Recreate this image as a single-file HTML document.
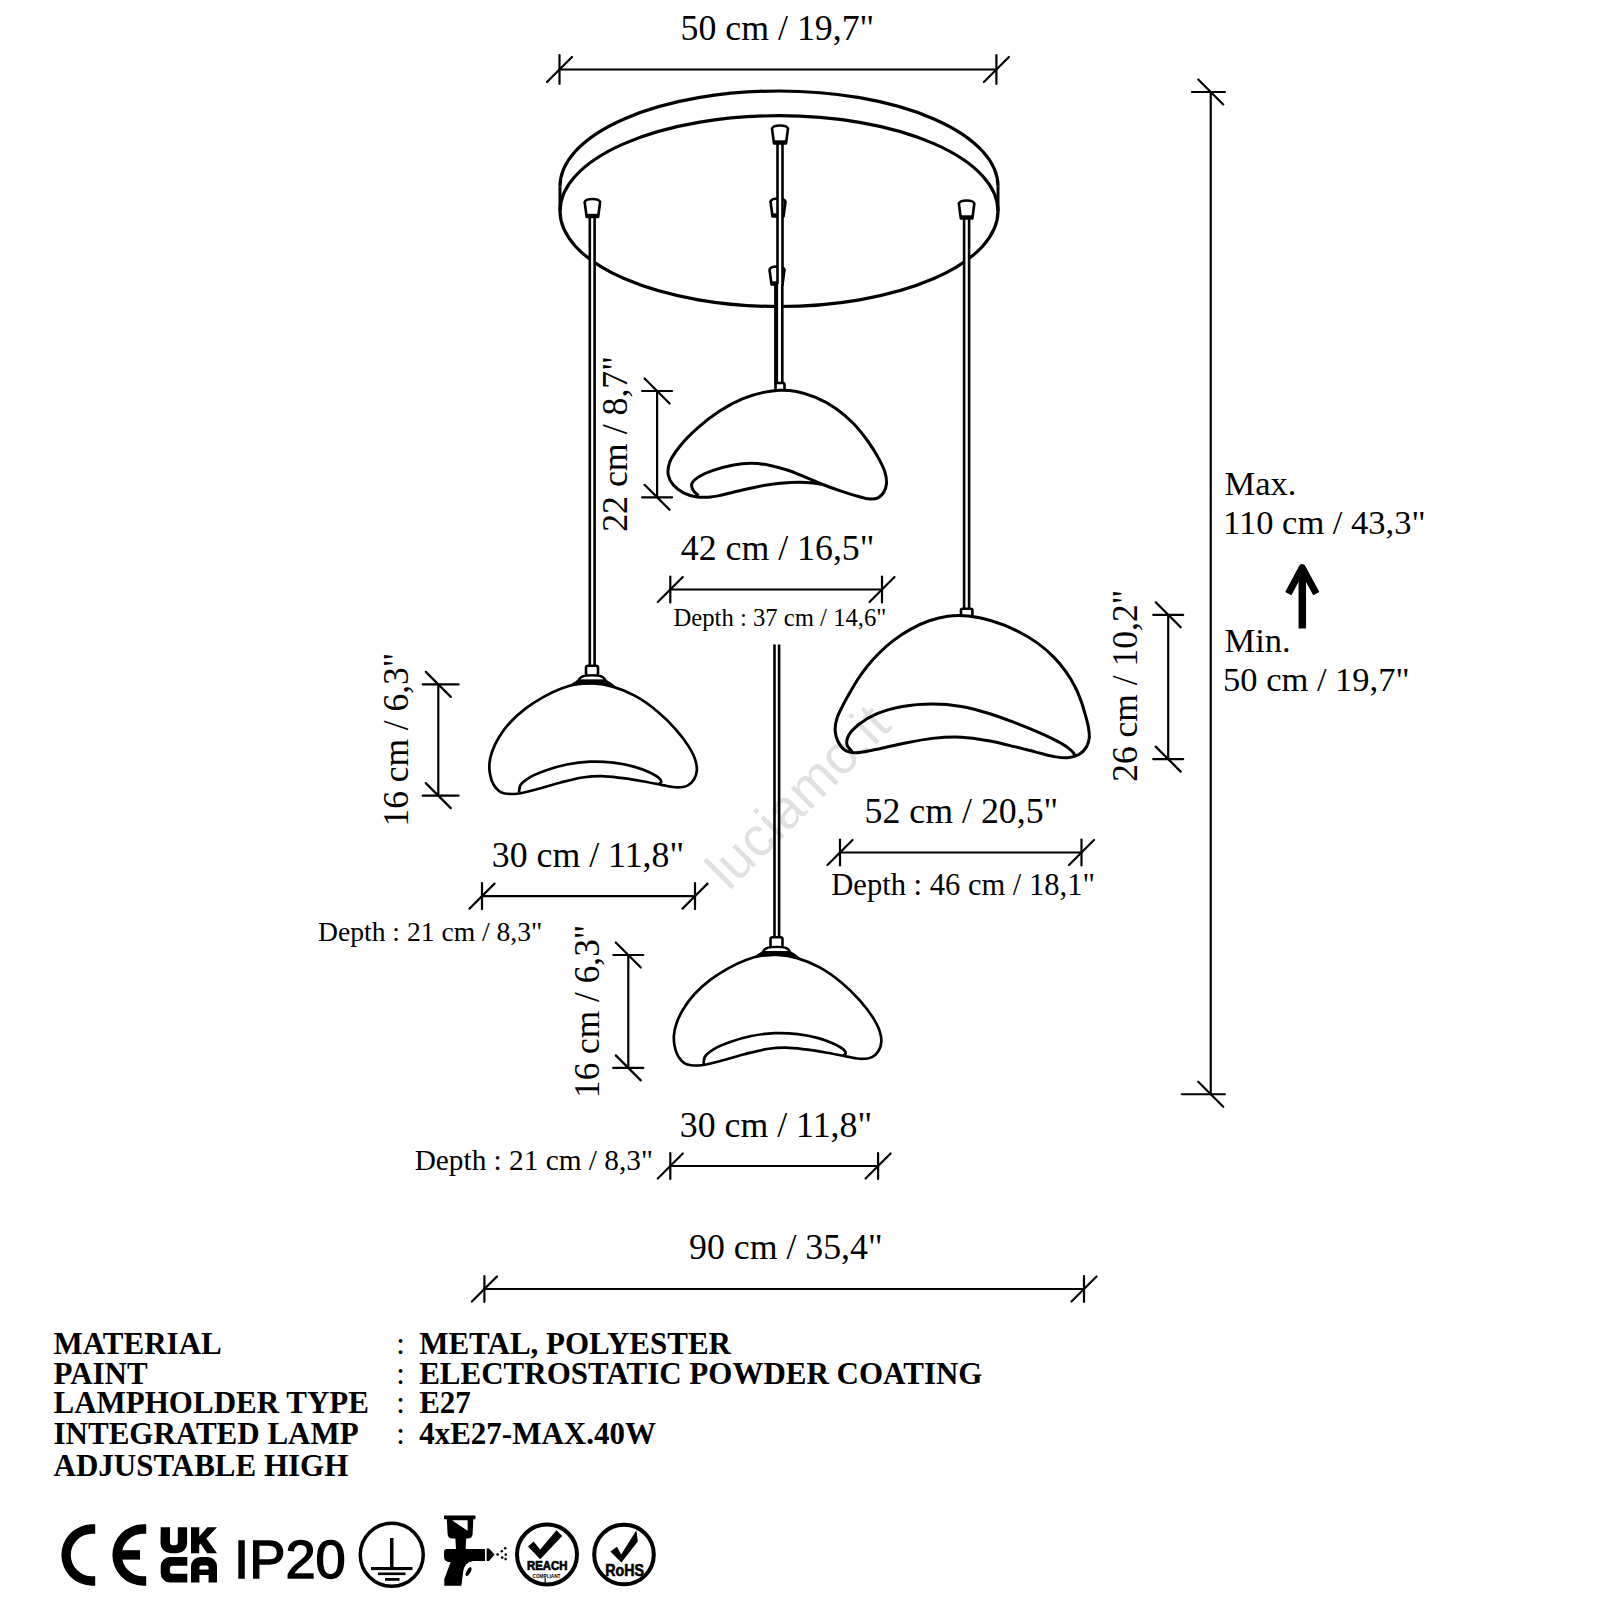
<!DOCTYPE html>
<html><head><meta charset="utf-8"><style>
html,body{margin:0;padding:0;background:#fff;width:1600px;height:1600px;overflow:hidden}
svg{display:block}
.s{font-family:"Liberation Serif",serif;fill:#000;stroke:none}
.b{font-family:"Liberation Serif",serif;font-weight:bold;fill:#000;stroke:none}
.ss{font-family:"Liberation Sans",sans-serif;fill:#000;stroke:none}
</style></head><body>
<svg width="1600" height="1600" viewBox="0 0 1600 1600">
<rect width="1600" height="1600" fill="#fff"/>
<g stroke="#000" fill="none" stroke-linejoin="round">
<ellipse cx="779" cy="211.1" rx="219" ry="95.4" fill="none" stroke-width="3.2"/>
<path d="M560,186.4 A219,95.4 0 0 1 998,186.4" stroke-width="3.2" fill="none"/>
<line x1="560" y1="186.4" x2="560" y2="211.1" stroke-width="3" stroke-linecap="butt"/>
<line x1="998" y1="186.4" x2="998" y2="211.1" stroke-width="3" stroke-linecap="butt"/>
<path d="M770.5,201.5 Q771.5,198.5 778,198.5 Q784.5,198.5 785.5,201.5 L783.5,216.5 L772.5,216.5 Z" stroke-width="2.6" fill="#fff"/>
<rect x="772" y="213.3" width="12" height="3.2" fill="#000" stroke="none"/>
<path d="M769.5,269.5 Q770.5,266.5 777,266.5 Q783.5,266.5 784.5,269.5 L782.5,284.5 L771.5,284.5 Z" stroke-width="2.6" fill="#fff"/>
<rect x="771" y="281.3" width="12" height="3.2" fill="#000" stroke="none"/>
<rect x="777.5" y="140" width="5" height="146" fill="#fff" stroke="none"/>
<line x1="777.5" y1="140" x2="777.5" y2="286" stroke-width="2.6" stroke-linecap="butt"/>
<line x1="782.5" y1="140" x2="782.5" y2="286" stroke-width="2.6" stroke-linecap="butt"/>
<rect x="776.3" y="284" width="6" height="100" fill="#fff" stroke="none"/>
<line x1="776.3" y1="284" x2="776.3" y2="384" stroke-width="2.6" stroke-linecap="butt"/>
<line x1="782.3" y1="284" x2="782.3" y2="384" stroke-width="2.6" stroke-linecap="butt"/>
<line x1="776.1" y1="284" x2="776.1" y2="384" stroke-width="4" stroke-linecap="butt"/>
<path d="M772,128.5 Q773,125.5 780,125.5 Q787,125.5 788,128.5 L786,143.5 L774,143.5 Z" stroke-width="2.6" fill="#fff"/>
<rect x="773.5" y="140.3" width="13" height="3.2" fill="#000" stroke="none"/>
<rect x="589.8" y="214" width="4.8" height="452" fill="#fff" stroke="none"/>
<line x1="589.8" y1="214" x2="589.8" y2="666" stroke-width="2.6" stroke-linecap="butt"/>
<line x1="594.6" y1="214" x2="594.6" y2="666" stroke-width="2.6" stroke-linecap="butt"/>
<path d="M584.65,202 Q585.65,199 592.4,199 Q599.15,199 600.15,202 L598.15,217 L586.65,217 Z" stroke-width="2.6" fill="#fff"/>
<rect x="586.15" y="213.8" width="12.5" height="3.2" fill="#000" stroke="none"/>
<rect x="964.1" y="215" width="5" height="394.5" fill="#fff" stroke="none"/>
<line x1="964.1" y1="215" x2="964.1" y2="609.5" stroke-width="2.6" stroke-linecap="butt"/>
<line x1="969.1" y1="215" x2="969.1" y2="609.5" stroke-width="2.6" stroke-linecap="butt"/>
<path d="M958.85,203.5 Q959.85,200.5 966.6,200.5 Q973.35,200.5 974.35,203.5 L972.35,218.5 L960.85,218.5 Z" stroke-width="2.6" fill="#fff"/>
<rect x="960.35" y="215.3" width="12.5" height="3.2" fill="#000" stroke="none"/>
<rect x="774.5" y="644.5" width="4.6" height="291.5" fill="#fff" stroke="none"/>
<line x1="774.5" y1="644.5" x2="774.5" y2="936" stroke-width="2.6" stroke-linecap="butt"/>
<line x1="779.1" y1="644.5" x2="779.1" y2="936" stroke-width="2.6" stroke-linecap="butt"/>
<rect x="775.5" y="383" width="9" height="8.5" rx="1.5" fill="#fff" stroke-width="2.6"/>
<path d="M821,484.4 C818.3,483.92 815.94,483.32 812.91,482.96 C809.09,482.51 804.64,482.19 799.85,482.17 C794.01,482.15 787.11,482.52 780.38,483.21 C773.05,483.95 764.94,485.27 757.54,486.66 C750.44,487.99 743.26,489.8 736.84,491.32 C731.23,492.65 726.11,494.21 721.12,495.22 C716.66,496.12 712.59,496.98 708.34,497.22 C704.16,497.46 699.91,497.43 695.81,496.71 C691.65,495.99 687.29,494.8 683.57,492.88 C679.89,490.98 676.16,488.39 673.59,485.32 C671.1,482.36 668.93,478.65 668.25,474.91 C667.54,471.01 668.21,466.57 669.7,462.32 C671.5,457.21 675.41,451.94 679.47,446.75 C684.25,440.64 690.66,434.22 697.14,428.4 C703.98,422.25 711.85,415.98 719.65,410.96 C727.15,406.13 735.29,401.85 742.95,398.68 C749.86,395.83 756.89,393.8 763.42,392.38 C769.2,391.13 774.55,390.36 780.08,390.22 C785.53,390.08 790.78,390.42 796.37,391.49 C802.59,392.68 809.25,394.75 815.62,397.43 C822.42,400.3 829.54,404.09 835.84,408.42 C842.16,412.76 848.13,418 853.47,423.47 C858.73,428.87 863.44,435.07 867.7,441 C871.73,446.62 875.52,452.56 878.51,458.09 C881.14,462.95 883.66,467.72 884.97,472.27 C886.09,476.16 886.81,480.07 886.5,483.57 C886.22,486.72 885.19,489.96 883.67,492.39 C882.28,494.63 880.27,496.7 878.01,497.8 C875.71,498.92 872.92,499.07 869.96,498.97 C866.29,498.84 862.09,497.47 857.68,496.31 C852.4,494.91 846.32,492.91 840.45,490.93 C834.25,488.83 827.6,486.42 821.44,484 C815.52,481.67 809.85,479.05 804.17,476.71 C798.69,474.46 793.5,472.09 787.92,470.22 C782.21,468.31 776.3,466.55 770.28,465.41 C764.17,464.25 757.82,463.4 751.53,463.36 C745.16,463.31 738.65,464.01 732.31,465.17 C725.88,466.34 719.1,468.28 713.2,470.4 C707.84,472.33 702.05,474.47 698.27,477.13 C695.42,479.13 692.45,481.46 691.77,483.85 C691.2,485.83 692.1,488.18 693.11,490.08 C694.22,492.2 696.7,493.89 698.5,495.8" stroke-width="3" fill="#fff"/>
<rect x="586" y="665.8" width="12" height="10" rx="2" fill="#fff" stroke-width="2.6"/>
<path d="M593.14,683.44 C599.32,683.79 605.96,684.72 612.57,686.6 C619.94,688.68 627.87,691.94 635.16,695.92 C642.85,700.12 650.6,705.77 657.44,711.43 C664.07,716.92 670.37,723.26 675.69,729.27 C680.46,734.67 684.8,740.28 688.15,745.61 C691.03,750.19 693.56,754.71 695.01,759.08 C696.24,762.83 697.07,766.59 696.85,770.06 C696.66,773.28 695.72,776.63 694.13,779.24 C692.57,781.81 690.18,784.29 687.47,785.66 C684.59,787.11 680.93,787.41 677.18,787.43 C672.69,787.47 667.65,786.01 662.35,785.08 C656.19,784 649.24,782.43 642.45,781.25 C635.37,780.02 627.76,778.76 620.7,777.9 C614.05,777.09 607.68,776.2 601.25,776.15 C594.95,776.09 588.99,776.52 582.49,777.5 C575.27,778.59 567.62,780.75 559.94,782.71 C551.83,784.79 543.03,787.77 535.06,789.7 C527.81,791.45 520.33,793.79 514.1,793.98 C509.13,794.14 504.18,793.93 500.63,792.08 C497.51,790.45 495.2,787.35 493.44,784.39 C491.66,781.4 490.71,777.68 490.04,774.21 C489.39,770.76 489.16,767.25 489.45,763.64 C489.75,759.79 490.67,755.83 492.05,751.79 C493.6,747.21 495.9,742.33 498.68,737.7 C501.73,732.63 505.58,727.43 509.87,722.72 C514.42,717.73 519.84,712.97 525.4,708.69 C531.08,704.33 537.48,700.26 543.64,696.83 C549.5,693.56 555.6,690.58 561.45,688.44 C566.76,686.48 571.85,685.02 577.16,684.19 C582.42,683.37 587.57,683.12 593.14,683.44Z" stroke-width="2.7" fill="#fff"/>
<path d="M519,792.5 C519.47,790.09 519.12,787.49 520.41,785.27 C522.01,782.51 525.48,780.11 529.01,777.89 C533.48,775.07 539.66,772.69 545.61,770.54 C552.14,768.18 559.46,766.01 566.71,764.53 C574.18,763.02 582.07,761.99 589.81,761.66 C597.56,761.33 605.66,761.71 613.17,762.58 C620.29,763.41 627.47,764.83 633.79,766.59 C639.38,768.15 644.82,770.16 649.26,772.27 C652.89,773.98 656.65,775.91 658.71,777.85 C660.06,779.12 661.52,780.71 661.35,781.77 C661.2,782.7 659.45,783.26 658.5,784" stroke-width="2.7" fill="none"/>
<path d="M578.5,680.6 C580,675.6 586,675.4 592,675.4 C598,675.4 604,675.6 605.5,680.6 Z" stroke-width="2.4" fill="#fff"/>
<path d="M568,686.6 C573,682.6 576,680.6 578.5,679.8 L605.5,679.8 C608,680.6 611,682.6 616,686.6 C604,683.8 580,683.8 568,686.6 Z" fill="#000" stroke="none"/>
<rect x="770.5" y="937.3" width="12" height="10" rx="2" fill="#fff" stroke-width="2.6"/>
<path d="M777.64,954.94 C783.82,955.29 790.46,956.22 797.07,958.1 C804.44,960.18 812.37,963.44 819.66,967.42 C827.35,971.62 835.1,977.27 841.94,982.93 C848.57,988.42 854.87,994.76 860.19,1000.77 C864.96,1006.17 869.3,1011.78 872.65,1017.11 C875.53,1021.69 878.06,1026.21 879.51,1030.58 C880.74,1034.33 881.57,1038.09 881.35,1041.56 C881.16,1044.78 880.22,1048.13 878.63,1050.74 C877.07,1053.31 874.68,1055.79 871.97,1057.16 C869.09,1058.61 865.43,1058.91 861.68,1058.93 C857.19,1058.97 852.15,1057.51 846.85,1056.58 C840.69,1055.5 833.74,1053.93 826.95,1052.75 C819.87,1051.52 812.26,1050.26 805.2,1049.4 C798.55,1048.59 792.18,1047.7 785.75,1047.65 C779.45,1047.59 773.49,1048.02 766.99,1049 C759.77,1050.09 752.12,1052.25 744.44,1054.21 C736.33,1056.29 727.53,1059.27 719.56,1061.2 C712.31,1062.95 704.83,1065.29 698.6,1065.48 C693.63,1065.64 688.68,1065.43 685.13,1063.58 C682.01,1061.95 679.7,1058.85 677.94,1055.89 C676.16,1052.9 675.21,1049.18 674.54,1045.71 C673.89,1042.26 673.66,1038.75 673.95,1035.14 C674.25,1031.29 675.17,1027.33 676.55,1023.29 C678.1,1018.71 680.4,1013.83 683.18,1009.2 C686.23,1004.13 690.08,998.93 694.37,994.22 C698.92,989.23 704.34,984.47 709.9,980.19 C715.58,975.83 721.98,971.76 728.14,968.33 C734,965.06 740.1,962.08 745.95,959.94 C751.26,957.98 756.35,956.52 761.66,955.69 C766.92,954.87 772.07,954.62 777.64,954.94Z" stroke-width="2.7" fill="#fff"/>
<path d="M703.5,1064 C703.97,1061.59 703.62,1058.99 704.91,1056.77 C706.51,1054.01 709.98,1051.61 713.51,1049.39 C717.98,1046.57 724.16,1044.19 730.11,1042.04 C736.64,1039.68 743.96,1037.51 751.21,1036.03 C758.68,1034.52 766.57,1033.49 774.31,1033.16 C782.06,1032.83 790.16,1033.21 797.67,1034.08 C804.79,1034.91 811.97,1036.33 818.29,1038.09 C823.88,1039.65 829.32,1041.66 833.76,1043.77 C837.39,1045.48 841.15,1047.41 843.21,1049.35 C844.56,1050.62 846.02,1052.21 845.85,1053.27 C845.7,1054.2 843.95,1054.76 843,1055.5" stroke-width="2.7" fill="none"/>
<path d="M763,952.1 C764.5,947.1 770.5,946.9 776.5,946.9 C782.5,946.9 788.5,947.1 790,952.1 Z" stroke-width="2.4" fill="#fff"/>
<path d="M752.5,958.1 C757.5,954.1 760.5,952.1 763,951.3 L790,951.3 C792.5,952.1 795.5,954.1 800.5,958.1 C788.5,955.3 764.5,955.3 752.5,958.1 Z" fill="#000" stroke="none"/>
<rect x="961" y="608.8" width="11.4" height="7.5" rx="1.5" fill="#fff" stroke-width="2.6"/>
<path d="M968.29,616.1 C975.99,616.86 984.28,618.68 992.16,621.03 C1000.32,623.45 1008.78,626.8 1016.41,630.53 C1023.76,634.12 1030.88,638.32 1037.22,642.87 C1043.19,647.15 1048.65,651.91 1053.54,656.87 C1058.19,661.6 1062.36,666.74 1066.02,671.86 C1069.47,676.7 1072.49,681.73 1075.04,686.71 C1077.44,691.4 1079.3,696.15 1081.02,700.87 C1082.69,705.44 1083.99,710.1 1085.24,714.58 C1086.43,718.83 1087.71,723.07 1088.38,727.1 C1088.99,730.77 1089.65,734.36 1089.28,737.76 C1088.92,741.02 1088.03,744.36 1086.36,747.12 C1084.63,749.97 1081.95,752.76 1078.95,754.52 C1075.75,756.4 1071.57,757.4 1067.54,757.77 C1063.17,758.18 1058.47,757.31 1053.64,756.49 C1048.24,755.59 1042.73,753.84 1036.72,752.33 C1029.82,750.6 1022.25,748.5 1014.56,746.65 C1006.27,744.65 997.38,742.36 988.61,740.78 C979.75,739.2 970.85,737.62 961.66,737.2 C952.11,736.76 942.27,737.31 932.35,738.38 C921.96,739.49 910.86,741.93 900.69,743.96 C891.17,745.85 881.38,748.57 873.14,750.08 C866.53,751.3 860.28,753.02 855.13,752.72 C851.17,752.49 847.59,751.79 844.75,749.94 C841.94,748.11 839.73,744.88 838.14,741.72 C836.45,738.39 835.34,734.18 835.13,730.33 C834.91,726.46 835.72,722.45 836.86,718.56 C838.08,714.41 840.39,710.42 842.47,706.24 C844.7,701.76 847.31,697.09 849.91,692.54 C852.55,687.92 855.21,683.2 858.18,678.73 C861.14,674.25 864.25,669.94 867.69,665.71 C871.25,661.34 875.04,657.08 879.22,652.96 C883.63,648.62 888.42,644.3 893.57,640.39 C898.92,636.33 904.85,632.41 910.82,629.12 C916.74,625.87 922.98,622.93 929.23,620.77 C935.29,618.67 941.34,617.04 947.72,616.25 C954.35,615.43 961.22,615.4 968.29,616.1Z" stroke-width="3" fill="#fff"/>
<path d="M852,751.6 C850.32,749.3 847.56,747.3 846.95,744.71 C846.32,742.04 847.02,738.71 848.46,735.77 C850.32,731.96 854.53,727.96 858.75,724.53 C863.74,720.49 870.23,716.66 877.04,713.74 C884.64,710.48 893.61,708.12 902.52,706.51 C911.97,704.79 922.43,704.03 932.29,704.03 C942.03,704.04 951.9,704.89 961.33,706.46 C970.54,707.99 979.37,710.53 988.24,713.21 C997.17,715.91 1006.1,719.34 1014.72,722.62 C1023.09,725.81 1031.7,729.27 1039.24,732.6 C1045.87,735.53 1052.42,738.52 1057.67,741.4 C1061.82,743.67 1065.65,745.95 1068.45,748.13 C1070.48,749.71 1072.16,751.26 1073.29,752.76 C1074.12,753.86 1074.43,754.92 1075,756" stroke-width="3" fill="none"/>
<line x1="559.5" y1="69.5" x2="996.4" y2="69.5" stroke-width="2.2" stroke-linecap="round"/>
<line x1="559.5" y1="55" x2="559.5" y2="84" stroke-width="2.2" stroke-linecap="round"/>
<line x1="547" y1="82" x2="572" y2="57" stroke-width="2.2" stroke-linecap="round"/>
<line x1="996.4" y1="55" x2="996.4" y2="84" stroke-width="2.2" stroke-linecap="round"/>
<line x1="983.9" y1="82" x2="1008.9" y2="57" stroke-width="2.2" stroke-linecap="round"/>
<line x1="657.1" y1="391" x2="657.1" y2="497.3" stroke-width="2.2" stroke-linecap="round"/>
<line x1="642.1" y1="391" x2="672.1" y2="391" stroke-width="2.2" stroke-linecap="round"/>
<line x1="644.6" y1="378.5" x2="669.6" y2="403.5" stroke-width="2.2" stroke-linecap="round"/>
<line x1="642.1" y1="497.3" x2="672.1" y2="497.3" stroke-width="2.2" stroke-linecap="round"/>
<line x1="644.6" y1="484.8" x2="669.6" y2="509.8" stroke-width="2.2" stroke-linecap="round"/>
<line x1="670.3" y1="589.5" x2="882" y2="589.5" stroke-width="2.2" stroke-linecap="round"/>
<line x1="670.3" y1="576.5" x2="670.3" y2="602.5" stroke-width="2.2" stroke-linecap="round"/>
<line x1="657.8" y1="602" x2="682.8" y2="577" stroke-width="2.2" stroke-linecap="round"/>
<line x1="882" y1="576.5" x2="882" y2="602.5" stroke-width="2.2" stroke-linecap="round"/>
<line x1="869.5" y1="602" x2="894.5" y2="577" stroke-width="2.2" stroke-linecap="round"/>
<line x1="438.3" y1="684.4" x2="438.3" y2="795.6" stroke-width="2.2" stroke-linecap="round"/>
<line x1="422.7" y1="684.4" x2="458.6" y2="684.4" stroke-width="2.2" stroke-linecap="round"/>
<line x1="425.8" y1="671.9" x2="450.8" y2="696.9" stroke-width="2.2" stroke-linecap="round"/>
<line x1="422.7" y1="795.6" x2="458.6" y2="795.6" stroke-width="2.2" stroke-linecap="round"/>
<line x1="425.8" y1="783.1" x2="450.8" y2="808.1" stroke-width="2.2" stroke-linecap="round"/>
<line x1="482" y1="896.1" x2="695" y2="896.1" stroke-width="2.2" stroke-linecap="round"/>
<line x1="482" y1="883.1" x2="482" y2="909.1" stroke-width="2.2" stroke-linecap="round"/>
<line x1="469.5" y1="908.6" x2="494.5" y2="883.6" stroke-width="2.2" stroke-linecap="round"/>
<line x1="695" y1="883.1" x2="695" y2="909.1" stroke-width="2.2" stroke-linecap="round"/>
<line x1="682.5" y1="908.6" x2="707.5" y2="883.6" stroke-width="2.2" stroke-linecap="round"/>
<line x1="1168.2" y1="614.8" x2="1168.2" y2="759.1" stroke-width="2.2" stroke-linecap="round"/>
<line x1="1153.2" y1="614.8" x2="1183.2" y2="614.8" stroke-width="2.2" stroke-linecap="round"/>
<line x1="1155.7" y1="602.3" x2="1180.7" y2="627.3" stroke-width="2.2" stroke-linecap="round"/>
<line x1="1153.2" y1="759.1" x2="1183.2" y2="759.1" stroke-width="2.2" stroke-linecap="round"/>
<line x1="1155.7" y1="746.6" x2="1180.7" y2="771.6" stroke-width="2.2" stroke-linecap="round"/>
<line x1="840" y1="852.5" x2="1081.5" y2="852.5" stroke-width="2.2" stroke-linecap="round"/>
<line x1="840" y1="839.5" x2="840" y2="865.5" stroke-width="2.2" stroke-linecap="round"/>
<line x1="827.5" y1="865" x2="852.5" y2="840" stroke-width="2.2" stroke-linecap="round"/>
<line x1="1081.5" y1="839.5" x2="1081.5" y2="865.5" stroke-width="2.2" stroke-linecap="round"/>
<line x1="1069" y1="865" x2="1094" y2="840" stroke-width="2.2" stroke-linecap="round"/>
<line x1="628.3" y1="955" x2="628.3" y2="1067.9" stroke-width="2.2" stroke-linecap="round"/>
<line x1="613.3" y1="955" x2="643.3" y2="955" stroke-width="2.2" stroke-linecap="round"/>
<line x1="615.8" y1="942.5" x2="640.8" y2="967.5" stroke-width="2.2" stroke-linecap="round"/>
<line x1="613.3" y1="1067.9" x2="643.3" y2="1067.9" stroke-width="2.2" stroke-linecap="round"/>
<line x1="615.8" y1="1055.4" x2="640.8" y2="1080.4" stroke-width="2.2" stroke-linecap="round"/>
<line x1="670.3" y1="1166" x2="878.1" y2="1166" stroke-width="2.2" stroke-linecap="round"/>
<line x1="670.3" y1="1153" x2="670.3" y2="1179" stroke-width="2.2" stroke-linecap="round"/>
<line x1="657.8" y1="1178.5" x2="682.8" y2="1153.5" stroke-width="2.2" stroke-linecap="round"/>
<line x1="878.1" y1="1153" x2="878.1" y2="1179" stroke-width="2.2" stroke-linecap="round"/>
<line x1="865.6" y1="1178.5" x2="890.6" y2="1153.5" stroke-width="2.2" stroke-linecap="round"/>
<line x1="484.4" y1="1289" x2="1084" y2="1289" stroke-width="2.2" stroke-linecap="round"/>
<line x1="484.4" y1="1276" x2="484.4" y2="1302" stroke-width="2.2" stroke-linecap="round"/>
<line x1="471.9" y1="1301.5" x2="496.9" y2="1276.5" stroke-width="2.2" stroke-linecap="round"/>
<line x1="1084" y1="1276" x2="1084" y2="1302" stroke-width="2.2" stroke-linecap="round"/>
<line x1="1071.5" y1="1301.5" x2="1096.5" y2="1276.5" stroke-width="2.2" stroke-linecap="round"/>
<line x1="1210.75" y1="92" x2="1210.75" y2="1094.25" stroke-width="2.2" stroke-linecap="round"/>
<line x1="1191.95" y1="92" x2="1224.95" y2="92" stroke-width="2.2" stroke-linecap="round"/>
<line x1="1198.25" y1="79.5" x2="1223.25" y2="104.5" stroke-width="2.2" stroke-linecap="round"/>
<line x1="1181.75" y1="1094.25" x2="1224.95" y2="1094.25" stroke-width="2.2" stroke-linecap="round"/>
<line x1="1198.25" y1="1081.75" x2="1223.25" y2="1106.75" stroke-width="2.2" stroke-linecap="round"/>
<text x="680.6" y="40" font-size="35.8" class="s" text-anchor="start">50 cm / 19,7"</text>
<text transform="translate(626.9,531.8) rotate(-90)" font-size="35.8" class="s">22 cm / 8,7"</text>
<text x="680.8" y="559.8" font-size="35.8" class="s" text-anchor="start">42 cm / 16,5"</text>
<text x="673.4" y="626.25" font-size="24.7" class="s" text-anchor="start">Depth : 37 cm / 14,6"</text>
<text transform="translate(407.7,826.5) rotate(-90)" font-size="35.4" class="s">16 cm / 6,3"</text>
<text x="491.8" y="866.7" font-size="35.8" class="s" text-anchor="start">30 cm / 11,8"</text>
<text x="318" y="941.1" font-size="27.6" class="s" text-anchor="start">Depth : 21 cm / 8,3"</text>
<text transform="translate(1137.4,781.8) rotate(-90)" font-size="35.5" class="s">26 cm / 10,2"</text>
<text x="864.6" y="822.6" font-size="35.8" class="s" text-anchor="start">52 cm / 20,5"</text>
<text x="831.3" y="894.5" font-size="30.55" class="s" text-anchor="start">Depth : 46 cm / 18,1"</text>
<text transform="translate(598.6,1098) rotate(-90)" font-size="35.3" class="s">16 cm / 6,3"</text>
<text x="679.8" y="1136.9" font-size="35.8" class="s" text-anchor="start">30 cm / 11,8"</text>
<text x="414.7" y="1170" font-size="29.3" class="s" text-anchor="start">Depth : 21 cm / 8,3"</text>
<text x="689" y="1258.6" font-size="35.8" class="s" text-anchor="start">90 cm / 35,4"</text>
<text x="1224.5" y="495.3" font-size="34.5" class="s" text-anchor="start">Max.</text>
<text x="1223" y="533.5" font-size="34.5" class="s" text-anchor="start">110 cm / 43,3"</text>
<text x="1224.5" y="652" font-size="34.5" class="s" text-anchor="start">Min.</text>
<text x="1223" y="691" font-size="34.5" class="s" text-anchor="start">50 cm / 19,7"</text>
<line x1="1302.3" y1="571" x2="1302.3" y2="628.5" stroke-width="7.5" stroke-linecap="butt"/>
<polyline points="1288.3,593.7 1302.2,567.6 1316.3,593.7" fill="none" stroke-width="7" stroke-linecap="butt" stroke-linejoin="round"/>
<text x="53.5" y="1354.4" font-size="31" class="b" text-anchor="start">MATERIAL</text>
<text x="396.3" y="1354.4" font-size="31" class="s" text-anchor="start">:</text>
<text x="419.2" y="1354.4" font-size="31" class="b" text-anchor="start">METAL, POLYESTER</text>
<text x="53.5" y="1383.75" font-size="31" class="b" text-anchor="start">PAINT</text>
<text x="396.3" y="1383.75" font-size="31" class="s" text-anchor="start">:</text>
<text x="419.2" y="1383.75" font-size="31" class="b" text-anchor="start">ELECTROSTATIC POWDER COATING</text>
<text x="53.5" y="1413.1" font-size="31" class="b" text-anchor="start">LAMPHOLDER TYPE</text>
<text x="396.3" y="1413.1" font-size="31" class="s" text-anchor="start">:</text>
<text x="419.2" y="1413.1" font-size="31" class="b" text-anchor="start">E27</text>
<text x="53.5" y="1443.6" font-size="31" class="b" text-anchor="start">INTEGRATED LAMP</text>
<text x="396.3" y="1443.6" font-size="31" class="s" text-anchor="start">:</text>
<text x="419.2" y="1443.6" font-size="31" class="b" text-anchor="start">4xE27-MAX.40W</text>
<text x="53.5" y="1476.1" font-size="31" class="b" text-anchor="start">ADJUSTABLE HIGH</text>
<text transform="translate(728.7,891.8) rotate(-45)" font-size="55" fill="#000" fill-opacity="0.12" stroke="none" font-family="Liberation Sans, sans-serif">luciamo.it</text>
</g>
<path d="M95.20,1524.30 L92.10,1524.30 A30.70,30.70 0 0 0 92.10,1585.70 L95.20,1585.70 L95.20,1576.30 L92.10,1576.30 A21.30,21.30 0 0 1 92.10,1533.70 L95.20,1533.70 Z" fill="#000"/>
<path d="M146.20,1524.30 L143.10,1524.30 A30.70,30.70 0 0 0 143.10,1585.70 L146.20,1585.70 L146.20,1576.30 L143.10,1576.30 A21.30,21.30 0 0 1 143.10,1533.70 L146.20,1533.70 Z" fill="#000"/>
<rect x="118" y="1550.2" width="22" height="9.4" fill="#000"/>
<path d="M160.7,1527.2 h9.3 v15 a3,3 0 0 0 3,3 h1.8 a3,3 0 0 0 3,-3 v-15 h9.3 v16 a10,10 0 0 1 -10,10.1 h-6.6 a10,10 0 0 1 -10,-10.1 z" fill="#000"/>
<path d="M191,1527.2 h8.2 v9.2 l8.2,-9.2 h9.6 l-10.6,11.4 l10.6,14.7 h-9.8 l-6.6,-9.6 l-1.4,1.5 v8.1 h-8.2 z" fill="#000"/>
<path d="M187.3,1557 v8.8 h-14.9 a2.5,2.5 0 0 0 -2.5,2.5 v3 a2.5,2.5 0 0 0 2.5,2.5 h14.9 v8.7 h-17.3 a9.3,9.3 0 0 1 -9.3,-9.3 v-6.9 a9.3,9.3 0 0 1 9.3,-9.3 z" fill="#000"/>
<path fill-rule="evenodd" d="M191,1582.5 v-16.2 a9.3,9.3 0 0 1 9.3,-9.3 h7.4 a9.3,9.3 0 0 1 9.3,9.3 v16.2 h-8.4 v-7.6 h-9.2 v7.6 z M199.4,1569.6 h9.2 v-2 a2.2,2.2 0 0 0 -2.2,-2.2 h-4.8 a2.2,2.2 0 0 0 -2.2,2.2 z" fill="#000"/>
<text x="234.1" y="1578" font-family="Liberation Sans, sans-serif" font-size="54.3" fill="#000" stroke="#000" stroke-width="1.4">IP20</text>
<circle cx="391.75" cy="1554.75" r="31.5" fill="none" stroke="#000" stroke-width="3.5"/>
<rect x="390" y="1538" width="3.5" height="30" fill="#000"/>
<rect x="371" y="1567" width="41.5" height="3.1" fill="#000"/>
<rect x="378" y="1572.5" width="27.5" height="2.6" fill="#000"/>
<rect x="385" y="1578" width="14.5" height="2.8" fill="#000"/>
<g fill="#000">
<rect x="444" y="1515.4" width="31.5" height="3.8" rx="0.6"/>
<path d="M446.8,1519 H473.3 L472.6,1534 Q472.2,1538.5 467.5,1538.5 H452.5 Q448,1538.5 447.6,1534 Z"/>
<path d="M455.3,1538 H466.2 L465.6,1549.5 H456 Z"/>
<path d="M446.5,1549 H485 V1561 H473 Q468.5,1561.5 466,1564.5 Q463.8,1567.5 463.3,1571 L462.2,1579 Q461.9,1583 461.3,1585.8 H444.3 V1579 L450.6,1562.3 Q447,1562 445.3,1560.6 Q444,1559.2 444,1556.5 V1551.5 Q444.2,1549 446.5,1549 Z"/>
<path d="M486.6,1548.5 H489 L494.7,1554.6 L489,1561 H486.6 Z"/>
</g>
<polygon points="452,1520.3 467.6,1520.3 467.6,1530.8" fill="#fff"/>
<ellipse cx="468.6" cy="1571.6" rx="2" ry="4.9" transform="rotate(28 468.6 1571.6)" fill="#000"/>
<circle cx="497.6" cy="1554.5" r="1.3" fill="#000"/>
<circle cx="501.8" cy="1551.3" r="1.3" fill="#000"/>
<circle cx="505.2" cy="1548.2" r="1.3" fill="#000"/>
<circle cx="502.2" cy="1557.6" r="1.3" fill="#000"/>
<circle cx="505.8" cy="1554.6" r="1.3" fill="#000"/>
<circle cx="505.6" cy="1559.1" r="1.3" fill="#000"/>
<circle cx="547" cy="1554.5" r="30" fill="none" stroke="#000" stroke-width="4"/>
<polygon points="528,1546.5 533.6,1541.6 540.2,1549.6 556.5,1530.2 562.2,1536 540.2,1559.2" fill="#000"/>
<text x="527" y="1570.2" font-family="Liberation Sans, sans-serif" font-weight="bold" font-size="12" textLength="40.5" lengthAdjust="spacingAndGlyphs" fill="#000" stroke="#000" stroke-width="0.7">REACH</text>
<text x="532.5" y="1577.6" font-family="Liberation Sans, sans-serif" font-weight="bold" font-size="4.6" textLength="28" lengthAdjust="spacingAndGlyphs" fill="#000">COMPLIANT</text>
<rect x="544.6" y="1577.5" width="1.2" height="6.5" fill="#000"/>
<circle cx="624" cy="1554.5" r="29.8" fill="none" stroke="#000" stroke-width="4"/>
<polygon points="610.4,1551.6 617,1546.8 621.2,1554.4 636.4,1530.2 637.8,1541.6 621.4,1562.6" fill="#000"/>
<text x="605.3" y="1575.6" font-family="Liberation Sans, sans-serif" font-weight="bold" font-size="15.8" textLength="38.8" lengthAdjust="spacingAndGlyphs" fill="#000" stroke="#000" stroke-width="0.6">RoHS</text>
</svg>
</body></html>
